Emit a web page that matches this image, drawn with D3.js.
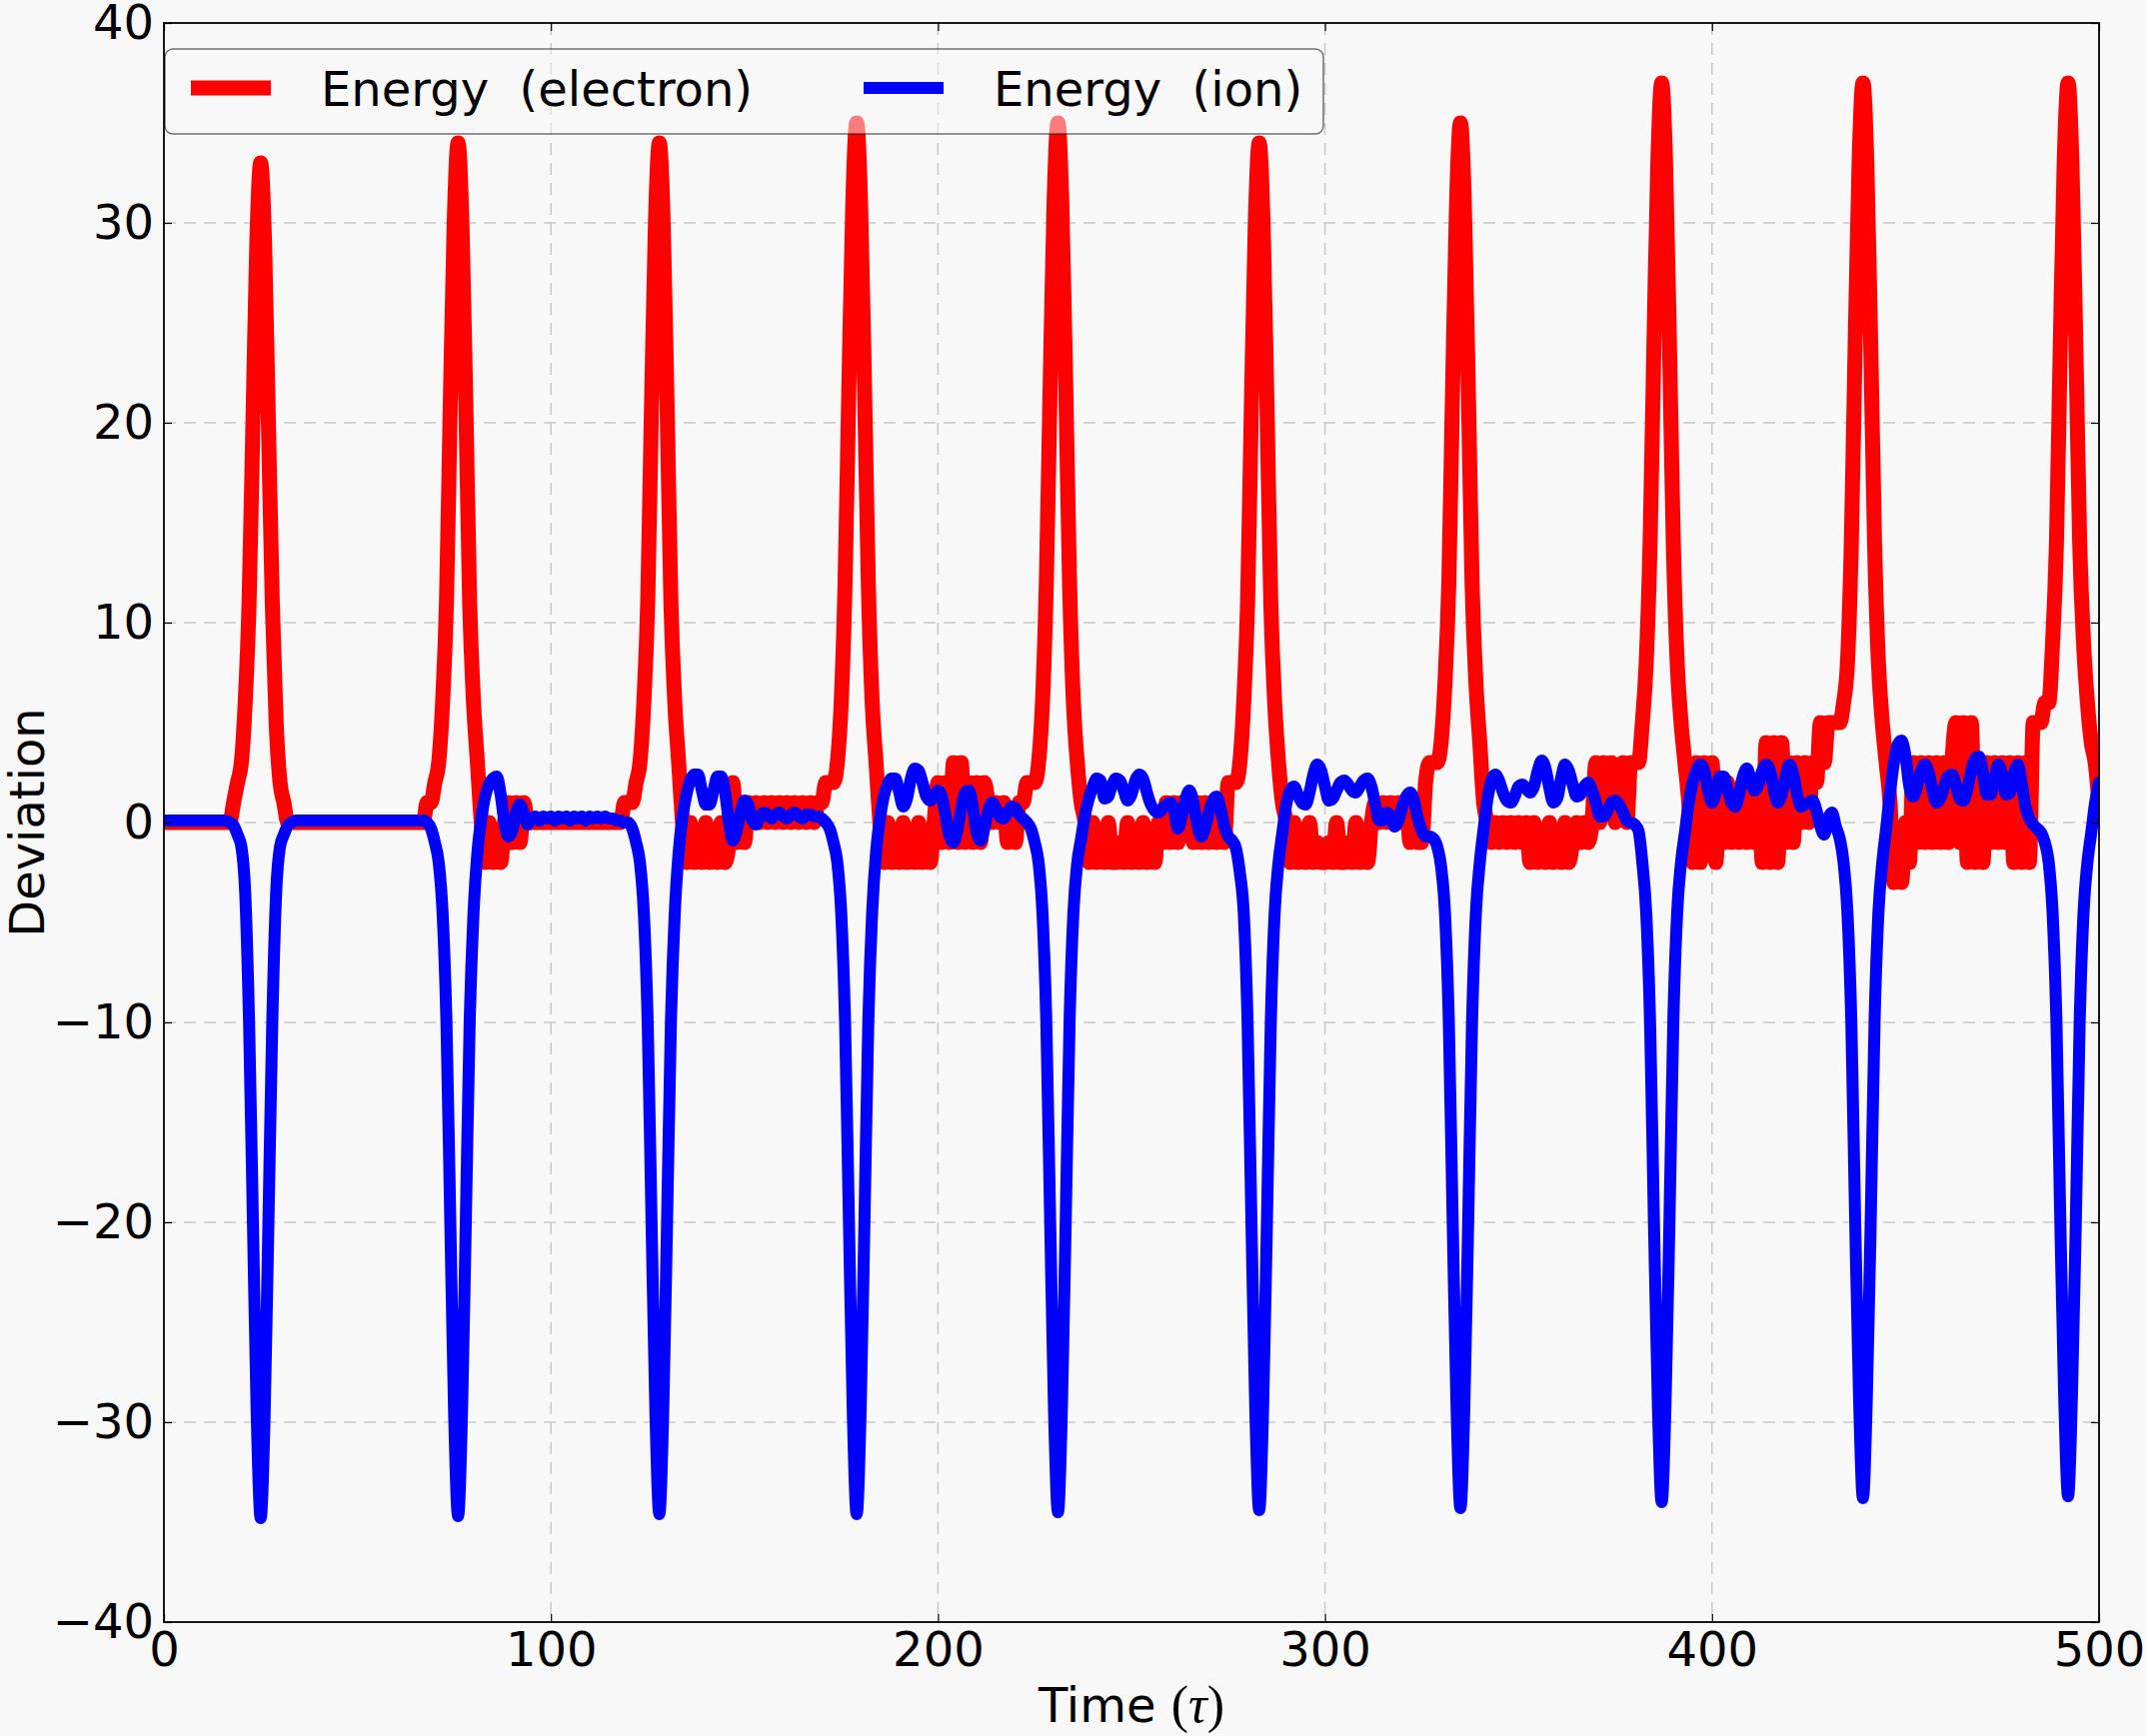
<!DOCTYPE html>
<html>
<head>
<meta charset="utf-8">
<script src="https://cdn.jsdelivr.net/npm/d3@7"></script>
<style>
html, body { margin: 0; padding: 0; background: #f8f8f8; }
svg { display: block; }
text { font-family: "DejaVu Sans", sans-serif; fill: #000; }
</style>
</head>
<body>
<script>
// one sample per unit of time, tau = 0 .. 500
var electron = [
  0,0,0,0,0,0,0,0,0,0,
  0,0,0,0,0,0,0,0,1,2,
  3,6,11,20,29,33,29,20,11,5,
  2,1,0,0,0,0,0,0,0,0,
  0,0,0,0,0,0,0,0,0,0,
  0,0,0,0,0,0,0,0,0,0,
  0,0,0,0,0,0,0,0,1,1,
  2,3,6,11,21,30,34,30,21,11,
  6,3,0,-2,0,-2,-1,-2,0,1,
  -1,1,-1,1,0,0,0,0,0,0,
  0,0,0,0,0,0,0,0,0,0,
  0,0,0,0,0,0,0,0,0,1,
  1,1,2,3,6,11,21,30,34,30,
  21,11,6,3,0,-2,0,-2,-1,-2,
  0,-2,-1,-2,0,-2,-1,2,-1,1,
  -1,1,0,1,0,1,0,1,0,1,
  0,1,0,1,0,1,0,1,0,1,
  1,2,2,2,3,6,12,22,31,35,
  31,22,12,6,3,0,-2,0,-2,-1,
  -2,0,-2,-1,-2,0,-2,-1,-2,0,
  2,-1,2,-1,3,-1,3,-1,2,-1,
  2,-1,2,1,0,1,0,1,-1,0,
  -1,1,1,2,2,2,3,6,12,22,
  31,35,31,22,12,6,3,1,0,-2,
  0,-2,-1,-2,0,-2,-2,-1,-2,0,
  -2,-1,-2,0,-2,-1,-2,0,-1,1,
  -1,1,-1,1,0,1,-1,1,-1,1,
  -1,1,-1,1,-1,2,2,2,3,6,
  11,21,30,34,30,21,11,6,3,1,
  0,-2,0,-2,-1,-2,0,-2,-1,-2,
  -2,-1,-2,0,-2,-2,-1,-2,0,-2,
  -1,-2,0,1,0,1,0,1,0,1,
  0,1,-1,0,-1,-1,2,3,3,3,
  4,7,12,22,31,35,31,22,12,7,
  4,1,0,-1,0,-1,0,-1,0,-1,
  0,-1,0,-2,0,-2,-1,-2,0,-2,
  -1,-2,0,-2,-1,0,-1,0,-1,0,
  3,0,3,1,3,0,2,3,0,3,
  3,3,5,8,14,24,33,37,33,24,
  14,8,5,3,1,-2,3,-2,3,-1,
  3,-2,2,-1,2,-1,1,-1,2,-1,
  2,-1,2,-2,4,-2,4,-2,4,-1,
  3,-1,3,0,3,0,3,2,5,3,
  5,5,5,5,6,8,14,24,33,37,
  33,24,14,8,5,3,1,-3,-2,-3,
  0,-2,3,-1,3,-1,3,-1,3,-1,
  3,-1,3,5,-1,5,-2,5,-2,3,
  -2,3,-1,3,-1,3,-1,3,-2,3,
  -2,3,-2,5,5,5,6,6,9,14,
  24,33,37,33,24,14,9,6,4,3,
  1
];

var ion = [
  0.1,0.1,0.1,0.1,0.1,0.1,0.1,0.1,0.1,0.1,
  0.1,0.1,0.1,0.1,0.1,0.1,0.1,0,-0.15,-0.6,
  -1.2,-3.5,-10,-20,-29.8,-34.8,-29.8,-20,-10,-3.5,
  -1.2,-0.6,-0.15,0,0.1,0.1,0.1,0.1,0.1,0.1,
  0.1,0.1,0.1,0.1,0.1,0.1,0.1,0.1,0.1,0.1,
  0.1,0.1,0.1,0.1,0.1,0.1,0.1,0.1,0.1,0.1,
  0.1,0.1,0.1,0.1,0.1,0.1,0.1,0.1,0,-0.3,
  -1,-2,-4.5,-10,-20,-29.7,-34.7,-29.7,-20,-10,
  -4.5,-1.5,0.2,1.3,1.9,2.2,2.3,1.4,0,-0.7,
  -0.4,0.5,0.9,0.4,-0.1,0.2,0.3,0.1,0.3,0.2,
  0.3,0.1,0.3,0.2,0.3,0.1,0.3,0.2,0.3,0.1,
  0.3,0.2,0.3,0.2,0.3,0.2,0.2,0.1,0.1,0,
  0,-0.3,-1,-2,-4.5,-10,-20,-29.6,-34.6,-29.6,
  -20,-10,-4.5,-1.5,0.3,1.4,2.1,2.4,2.4,1.6,
  0.9,0.9,1.6,2.3,2.3,1.5,0,-0.9,-0.4,0.5,
  1.1,0.9,0.1,-0.1,0.3,0.5,0.4,0.2,0.4,0.5,
  0.3,0.2,0.4,0.5,0.3,0.2,0.4,0.4,0.3,0.3,
  0.2,0,-0.3,-1,-2,-4.5,-10,-20,-29.6,-34.6,
  -29.6,-20,-10,-4.5,-1.5,0.2,1.3,1.9,2.2,2.2,
  1.5,0.8,1.2,2.2,2.7,2.6,2,1.3,1.1,1.3,
  1.6,1.3,0.3,-0.7,-1,-0.4,0.7,1.5,1.6,0.8,
  -0.5,-0.9,-0.3,0.6,1,0.7,0.3,0.2,0.5,0.8,
  0.7,0.4,0.2,0,-0.3,-1,-2,-4.5,-10,-20,
  -29.5,-34.5,-29.5,-20,-10,-4.5,-2,-0.8,0.4,1.2,
  1.8,2.2,2.1,1.2,1.3,1.9,2.2,2.1,1.6,1.1,
  1.4,2.1,2.4,2.2,1.5,0.9,0.6,0.5,0.7,0.9,
  1.0,0.6,-0.3,0.3,1.2,1.6,1.0,-0.1,-0.7,-0.3,
  0.5,1.1,1.3,0.7,-0.2,-0.7,-0.9,-1.3,-2.5,-4.5,
  -10,-20,-29.4,-34.4,-29.4,-20,-10,-4.5,-2,-0.5,
  0.9,1.6,1.8,1.4,1.0,0.9,1.5,2.4,2.9,2.6,
  1.8,1.1,1.2,1.6,2.0,2.1,1.9,1.6,1.5,1.8,
  2.1,2.2,1.8,0.9,0.1,0.1,0.5,0.3,-0.2,0.1,
  0.8,1.3,1.5,1.1,0.2,-0.4,-0.7,-0.7,-0.8,-1.2,
  -2.2,-4.5,-10,-20,-29.3,-34.3,-29.3,-20,-10,-4.5,
  -2,-0.3,1.2,2.1,2.4,2.1,1.5,1.1,1.0,1.3,
  1.8,1.9,1.7,1.5,1.8,2.6,3.1,2.7,1.7,1.0,
  1.2,2.2,2.9,2.6,1.9,1.3,1.4,1.8,2.0,1.6,
  1.0,0.3,0.3,0.6,1.0,1.1,0.9,0.5,0.1,0,
  -0.1,-0.4,-2,-4.5,-10,-20,-29,-34,-29,-20,
  -10,-4.5,-2,-0.5,1,2,2.6,2.9,2.6,1.6,
  1.0,1.5,2.3,2.3,1.7,1.0,0.8,1.4,2.3,2.7,
  2.2,1.6,1.9,2.6,2.9,2.6,1.6,1.0,1.4,2.3,
  2.9,2.4,1.4,0.8,0.9,1.0,1.1,0.6,-0.2,-0.6,
  0.2,0.5,-0.2,-0.8,-2,-4.5,-10,-20,-28.8,-33.8,
  -28.8,-20,-10,-4.5,-2,-0.3,1.5,3,3.9,4.1,
  3.3,1.8,1.3,1.8,2.6,2.9,2.5,1.6,1.0,1.2,
  1.8,2.3,2.4,1.9,1.2,1.1,1.7,2.6,3.2,3.3,
  2.5,1.4,1.4,2.2,2.9,2.4,1.4,1.5,2.4,2.9,
  2.0,0.8,0.2,-0.1,-0.3,-0.5,-1.0,-2,-4.5,-10,
  -20,-28.7,-33.7,-28.7,-20,-10,-4.5,-2,-0.5,1,
  2
];

var xTicks = [0, 100, 200, 300, 400, 500];
var yTicks = [-40, -30, -20, -10, 0, 10, 20, 30, 40];
var seriesNames = ["Energy  (electron)", "Energy  (ion)"];
var seriesColors = ["#ff0000", "#0000ff"];
var seriesWidths = [15, 12];

var W = 2147, H = 1737;
var pLeft = 164, pRight = 2100, pTop = 23, pBottom = 1623;

var x = d3.scaleLinear().domain([0, 500]).range([pLeft, pRight]);
var y = d3.scaleLinear().domain([-40, 40]).range([pBottom, pTop]);

var svg = d3.select("body").append("svg").attr("width", W).attr("height", H);
svg.append("rect").attr("width", W).attr("height", H).attr("fill", "#f8f8f8");

svg.append("clipPath").attr("id", "plotclip")
  .append("rect").attr("x", pLeft).attr("y", pTop)
  .attr("width", pRight - pLeft).attr("height", pBottom - pTop);

// grid
var grid = svg.append("g").attr("stroke", "#c8c8c8").attr("stroke-width", 1.5)
  .attr("stroke-dasharray", "12,8");
grid.selectAll("line.gx").data(xTicks.slice(1, -1)).enter().append("line")
  .attr("class", "gx")
  .attr("x1", function (d) { return x(d); }).attr("x2", function (d) { return x(d); })
  .attr("y1", pTop).attr("y2", pBottom);
grid.selectAll("line.gy").data(yTicks.slice(1, -1)).enter().append("line")
  .attr("class", "gy")
  .attr("y1", function (d) { return y(d); }).attr("y2", function (d) { return y(d); })
  .attr("x1", pLeft).attr("x2", pRight);

// series
var seriesLine = d3.line()
  .x(function (d, i) { return x(i); })
  .y(function (d) { return y(d); })
  .curve(d3.curveMonotoneX);

var plot = svg.append("g").attr("clip-path", "url(#plotclip)");
[electron, ion].forEach(function (s, k) {
  plot.append("path").attr("d", seriesLine(s))
    .attr("fill", "none").attr("stroke", seriesColors[k]).attr("stroke-width", seriesWidths[k])
    .attr("stroke-linejoin", "round").attr("stroke-linecap", "round");
});

// axes, ticks pointing inwards on all four sides
var fmt = d3.format("d");
var axB = svg.append("g").attr("transform", "translate(0," + pBottom + ")")
  .call(d3.axisBottom(x).tickValues(xTicks).tickFormat(fmt).tickSizeInner(-8).tickSizeOuter(0).tickPadding(10));
var axL = svg.append("g").attr("transform", "translate(" + pLeft + ",0)")
  .call(d3.axisLeft(y).tickValues(yTicks).tickFormat(fmt).tickSizeInner(-8).tickSizeOuter(0).tickPadding(10));
var axT = svg.append("g").attr("transform", "translate(0," + pTop + ")")
  .call(d3.axisTop(x).tickValues(xTicks).tickFormat("").tickSizeInner(-8).tickSizeOuter(0));
var axR = svg.append("g").attr("transform", "translate(" + pRight + ",0)")
  .call(d3.axisRight(y).tickValues(yTicks).tickFormat("").tickSizeInner(-8).tickSizeOuter(0));

[axB, axL, axT, axR].forEach(function (a) {
  a.select(".domain").remove();
  a.selectAll(".tick line").attr("stroke", "#000").attr("stroke-width", 1.2);
  a.selectAll("text").attr("font-family", "DejaVu Sans").attr("font-size", 48).attr("fill", "#000");
});

svg.append("rect").attr("x", pLeft).attr("y", pTop)
  .attr("width", pRight - pLeft).attr("height", pBottom - pTop)
  .attr("fill", "none").attr("stroke", "#000").attr("stroke-width", 1.8);

// axis labels
var xl = svg.append("text").attr("x", (pLeft + pRight) / 2).attr("y", 1723)
  .attr("text-anchor", "middle").attr("font-size", 48);
xl.append("tspan").attr("font-family", "DejaVu Sans").text("Time\u00a0");
xl.append("tspan").attr("font-family", "Liberation Serif").attr("font-size", 52).text("(");
xl.append("tspan").attr("font-family", "Liberation Serif").attr("font-style", "italic").attr("font-size", 52).text("\u03c4");
xl.append("tspan").attr("font-family", "Liberation Serif").attr("font-size", 52).text(")");

svg.append("text")
  .attr("transform", "translate(44," + ((pTop + pBottom) / 2) + ") rotate(-90)")
  .attr("text-anchor", "middle").attr("font-size", 48).text("Deviation");

// legend (semi-transparent frame)
var lg = svg.append("g").attr("transform", "translate(165,49)");
lg.append("rect").attr("width", 1159).attr("height", 85).attr("rx", 8).attr("ry", 8)
  .attr("fill", "#f8f8f8").attr("fill-opacity", 0.5)
  .attr("stroke", "#000").attr("stroke-opacity", 0.55).attr("stroke-width", 1.5);
var handleX = [26, 699];
var textX = [156, 829];
seriesNames.forEach(function (name, k) {
  lg.append("line").attr("x1", handleX[k]).attr("x2", handleX[k] + 80)
    .attr("y1", 39).attr("y2", 39)
    .attr("stroke", seriesColors[k]).attr("stroke-width", seriesWidths[k]);
  lg.append("text").attr("x", textX[k]).attr("y", 57)
    .attr("font-size", 48).attr("xml:space", "preserve")
    .style("white-space", "pre").text(name);
});
</script>
</body>
</html>
